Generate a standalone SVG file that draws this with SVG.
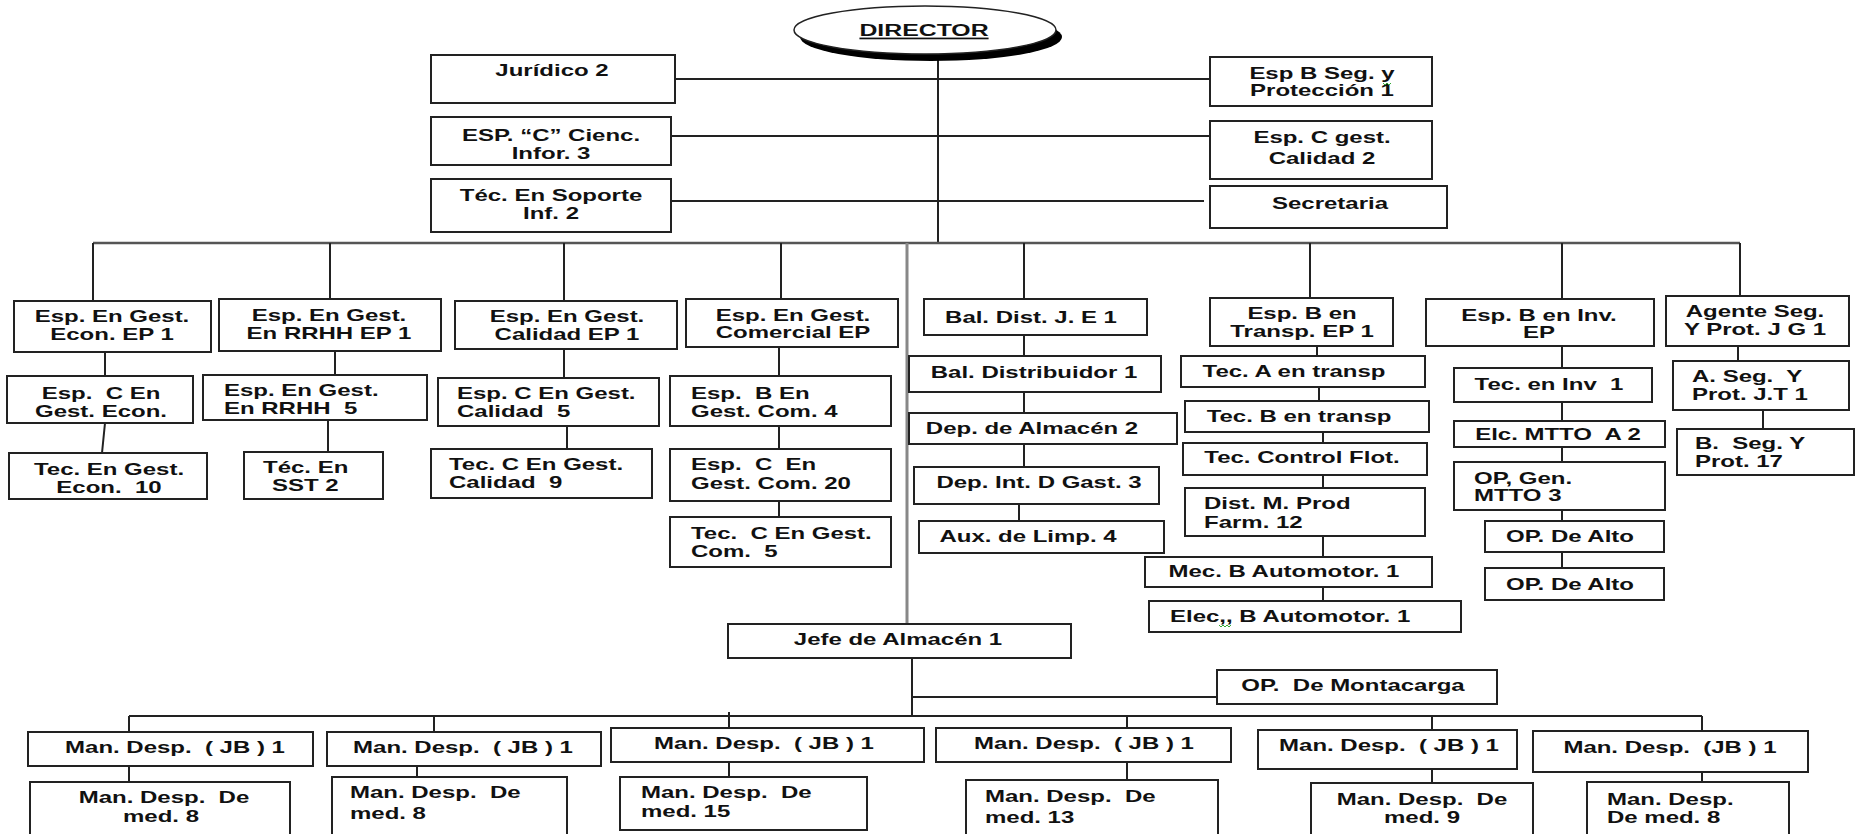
<svg xmlns="http://www.w3.org/2000/svg" width="1861" height="834" viewBox="0 0 1861 834">
<style>
  .b{fill:#fff;stroke:#222;stroke-width:2}
  .t{font-family:"Liberation Sans",Arial,sans-serif;font-weight:bold;font-size:16px;fill:#111;white-space:pre}
  .c{fill:none;stroke:#222;stroke-width:2}
  .bus{fill:none;stroke:#555;stroke-width:2.5}
  .gray{fill:none;stroke:#888;stroke-width:3}
  .sq{fill:none;stroke:#3a3;stroke-width:1}
</style>
<rect width="1861" height="834" fill="#fff"/>

<!-- connectors -->
<g id="connectors">
  <path class="c" d="M938,55V243M675,79H1210M671,136H1210M671,201H1204"/>
  <path class="bus" d="M93,243H1740"/>
  <path class="c" d="M93,243V301M330,243V299M564,243V301M781,243V299M1024,243V299M1310,243V298M1562,243V299M1740,243V296"/>
  <path class="c" d="M105,352V376M105,423L102,453"/>
  <path class="c" d="M335,351V375M328,420V452"/>
  <path class="c" d="M564,349V378M567,426V449"/>
  <path class="c" d="M779,347V376M779,426V449M779,501V517"/>
  <path class="c" d="M1024,335V356M1024,392V413M1024,444V467M1019,504V521"/>
  <path class="c" d="M1317,346V356M1319,387V401M1323,432V443M1323,475V488M1323,536V557M1323,587V601"/>
  <path class="c" d="M1562,346V368M1562,402V421M1562,447V462M1562,510V521M1562,552V568"/>
  <path class="c" d="M1738,346V361M1763,410V429"/>
  <path class="gray" d="M907,243V624"/>
  <path class="c" d="M912,658V716M912,697H1217"/>
  <path class="c" d="M129,716H1702"/>
  <path class="c" d="M129,716V732M434,716V732M729,712V728M1127,716V728M1432,716V730M1702,716V731"/>
  <path class="c" d="M129,766V782M417,766V777M729,762V777M1127,762V780M1432,769V783M1702,772V782"/>
</g>

<!-- director -->
<g id="director">
  <ellipse cx="931" cy="37" rx="131" ry="24" fill="#000"/>
  <ellipse cx="925" cy="30" rx="131" ry="24" fill="#fff" stroke="#222" stroke-width="1.5"/>
  <text class="t" font-size="17" text-decoration="underline" transform="translate(924,36) scale(1.46,1)" text-anchor="middle" style="font-size:17px">DIRECTOR</text>
</g>

<!-- staff units -->
<g id="juridico"><rect class="b" x="431" y="55" width="244" height="48"/>
  <text class="t" transform="translate(552,76) scale(1.5,1)" text-anchor="middle">Jurídico 2</text></g>
<g id="esp-cienc"><rect class="b" x="431" y="117" width="240" height="48"/>
  <text class="t" transform="translate(551,141) scale(1.5,1)" text-anchor="middle"><tspan x="0">ESP. “C” Cienc.</tspan><tspan x="0" dy="18">Infor. 3</tspan></text></g>
<g id="tec-soporte"><rect class="b" x="431" y="179" width="240" height="53"/>
  <text class="t" transform="translate(551,201) scale(1.5,1)" text-anchor="middle"><tspan x="0">Téc. En Soporte</tspan><tspan x="0" dy="18">Inf. 2</tspan></text></g>
<g id="esp-seg"><rect class="b" x="1210" y="57" width="222" height="49"/>
  <text class="t" transform="translate(1322,79) scale(1.5,1)" text-anchor="middle"><tspan x="0">Esp B Seg. y</tspan><tspan x="0" dy="17">Protección 1</tspan></text>
  <path class="sq" d="M1383,83l2,2l2,-2l2,2l2,-2"/></g>
<g id="esp-calidad"><rect class="b" x="1210" y="121" width="222" height="58"/>
  <text class="t" transform="translate(1322,143) scale(1.5,1)" text-anchor="middle"><tspan x="0">Esp. C gest.</tspan><tspan x="0" dy="21">Calidad 2</tspan></text></g>
<g id="secretaria"><rect class="b" x="1210" y="186" width="237" height="42"/>
  <text class="t" transform="translate(1330,209) scale(1.5,1)" text-anchor="middle">Secretaria</text></g>

<!-- economics -->
<g id="econ-ep"><rect class="b" x="14" y="301" width="197" height="51"/>
  <text class="t" transform="translate(112,322) scale(1.5,1)" text-anchor="middle"><tspan x="0">Esp. En Gest.</tspan><tspan x="0" dy="18.5">Econ. EP 1</tspan></text></g>
<g id="econ-c"><rect class="b" x="7" y="376" width="186" height="47"/>
  <text class="t" transform="translate(101,399) scale(1.5,1)" text-anchor="middle"><tspan x="0">Esp.  C En</tspan><tspan x="0" dy="18.5">Gest. Econ.</tspan></text></g>
<g id="econ-tec"><rect class="b" x="9" y="453" width="198" height="46"/>
  <text class="t" transform="translate(109,475) scale(1.5,1)" text-anchor="middle"><tspan x="0">Tec. En Gest.</tspan><tspan x="0" dy="18">Econ.  10</tspan></text></g>

<!-- human resources -->
<g id="rrhh-ep"><rect class="b" x="219" y="299" width="222" height="52"/>
  <text class="t" transform="translate(329,321) scale(1.5,1)" text-anchor="middle"><tspan x="0">Esp. En Gest.</tspan><tspan x="0" dy="18">En RRHH EP 1</tspan></text></g>
<g id="rrhh-esp"><rect class="b" x="203" y="375" width="224" height="45"/>
  <text class="t" transform="translate(224,396) scale(1.5,1)"><tspan x="0">Esp. En Gest.</tspan><tspan x="0" dy="18">En RRHH  5</tspan></text></g>
<g id="rrhh-sst"><rect class="b" x="244" y="452" width="139" height="47"/>
  <text class="t" transform="translate(263,473) scale(1.5,1)"><tspan x="0">Téc. En</tspan><tspan x="6" dy="18">SST 2</tspan></text></g>

<!-- quality -->
<g id="cal-ep"><rect class="b" x="455" y="301" width="222" height="48"/>
  <text class="t" transform="translate(567,322) scale(1.5,1)" text-anchor="middle"><tspan x="0">Esp. En Gest.</tspan><tspan x="0" dy="18">Calidad EP 1</tspan></text></g>
<g id="cal-esp"><rect class="b" x="438" y="378" width="221" height="48"/>
  <text class="t" transform="translate(457,399) scale(1.5,1)"><tspan x="0">Esp. C En Gest.</tspan><tspan x="0" dy="18.5">Calidad  5</tspan></text></g>
<g id="cal-tec"><rect class="b" x="431" y="449" width="221" height="49"/>
  <text class="t" transform="translate(449,470) scale(1.5,1)"><tspan x="0">Tec. C En Gest.</tspan><tspan x="0" dy="18">Calidad  9</tspan></text></g>

<!-- commercial -->
<g id="com-ep"><rect class="b" x="686" y="299" width="212" height="48"/>
  <text class="t" transform="translate(793,321) scale(1.5,1)" text-anchor="middle"><tspan x="0">Esp. En Gest.</tspan><tspan x="0" dy="17.5">Comercial EP</tspan></text></g>
<g id="com-b"><rect class="b" x="670" y="376" width="221" height="50"/>
  <text class="t" transform="translate(691,399) scale(1.5,1)"><tspan x="0">Esp.  B En</tspan><tspan x="0" dy="18.5">Gest. Com. 4</tspan></text></g>
<g id="com-c"><rect class="b" x="670" y="449" width="221" height="52"/>
  <text class="t" transform="translate(691,470) scale(1.5,1)"><tspan x="0">Esp.  C  En</tspan><tspan x="0" dy="19">Gest. Com. 20</tspan></text></g>
<g id="com-tec"><rect class="b" x="670" y="517" width="221" height="50"/>
  <text class="t" transform="translate(691,539) scale(1.5,1)"><tspan x="0">Tec.  C En Gest.</tspan><tspan x="0" dy="18.5">Com.  5</tspan></text></g>

<!-- distribution -->
<g id="bal-je"><rect class="b" x="924" y="299" width="223" height="36"/>
  <text class="t" transform="translate(1031,323) scale(1.5,1)" text-anchor="middle">Bal. Dist. J. E 1</text></g>
<g id="bal-dist"><rect class="b" x="909" y="356" width="252" height="36"/>
  <text class="t" transform="translate(1034,378) scale(1.5,1)" text-anchor="middle">Bal. Distribuidor 1</text></g>
<g id="dep-alm"><rect class="b" x="909" y="413" width="268" height="31"/>
  <text class="t" transform="translate(1032,434) scale(1.5,1)" text-anchor="middle">Dep. de Almacén 2</text></g>
<g id="dep-int"><rect class="b" x="914" y="467" width="245" height="37"/>
  <text class="t" transform="translate(1039,488) scale(1.5,1)" text-anchor="middle">Dep. Int. D Gast. 3</text></g>
<g id="aux-limp"><rect class="b" x="919" y="521" width="245" height="32"/>
  <text class="t" transform="translate(1028,542) scale(1.5,1)" text-anchor="middle">Aux. de Limp. 4</text></g>

<!-- transport -->
<g id="transp-ep"><rect class="b" x="1210" y="298" width="183" height="48"/>
  <text class="t" transform="translate(1302,319) scale(1.5,1)" text-anchor="middle"><tspan x="0">Esp. B en</tspan><tspan x="0" dy="18.5">Transp. EP 1</tspan></text></g>
<g id="tec-a"><rect class="b" x="1181" y="356" width="244" height="31"/>
  <text class="t" transform="translate(1294,377) scale(1.5,1)" text-anchor="middle">Tec. A en transp</text></g>
<g id="tec-b"><rect class="b" x="1185" y="401" width="244" height="31"/>
  <text class="t" transform="translate(1299,422) scale(1.5,1)" text-anchor="middle">Tec. B en transp</text></g>
<g id="tec-flot"><rect class="b" x="1183" y="443" width="244" height="32"/>
  <text class="t" transform="translate(1302,463) scale(1.5,1)" text-anchor="middle">Tec. Control Flot.</text></g>
<g id="dist-farm"><rect class="b" x="1185" y="488" width="240" height="48"/>
  <text class="t" transform="translate(1204,509) scale(1.5,1)"><tspan x="0">Dist. M. Prod</tspan><tspan x="0" dy="19">Farm. 12</tspan></text></g>
<g id="mec-auto"><rect class="b" x="1145" y="557" width="287" height="30"/>
  <text class="t" transform="translate(1284,577) scale(1.5,1)" text-anchor="middle">Mec. B Automotor. 1</text></g>
<g id="elec-auto"><rect class="b" x="1149" y="601" width="312" height="31"/>
  <text class="t" transform="translate(1170,622) scale(1.5,1)">Elec,, B Automotor. 1</text>
  <path class="sq" d="M1219,625l2,2l2,-2l2,2l2,-2l2,2l2,-2"/></g>

<!-- inventory -->
<g id="inv-ep"><rect class="b" x="1426" y="299" width="228" height="47"/>
  <text class="t" transform="translate(1539,321) scale(1.5,1)" text-anchor="middle"><tspan x="0">Esp. B en Inv.</tspan><tspan x="0" dy="17.5">EP</tspan></text></g>
<g id="tec-inv"><rect class="b" x="1454" y="368" width="198" height="34"/>
  <text class="t" transform="translate(1549,390) scale(1.5,1)" text-anchor="middle">Tec. en Inv  1</text></g>
<g id="elc-mtto"><rect class="b" x="1454" y="421" width="211" height="26"/>
  <text class="t" transform="translate(1558,440) scale(1.5,1)" text-anchor="middle">Elc. MTTO  A 2</text></g>
<g id="op-gen"><rect class="b" x="1454" y="462" width="211" height="48"/>
  <text class="t" transform="translate(1474,484) scale(1.5,1)"><tspan x="0">OP, Gen.</tspan><tspan x="0" dy="17.5">MTTO 3</tspan></text></g>
<g id="op-alto-1"><rect class="b" x="1485" y="521" width="179" height="31"/>
  <text class="t" transform="translate(1570,542) scale(1.5,1)" text-anchor="middle">OP. De Alto</text></g>
<g id="op-alto-2"><rect class="b" x="1485" y="568" width="179" height="32"/>
  <text class="t" transform="translate(1570,590) scale(1.5,1)" text-anchor="middle">OP. De Alto</text></g>

<!-- security -->
<g id="seg-jg"><rect class="b" x="1666" y="296" width="183" height="50"/>
  <text class="t" transform="translate(1755,317) scale(1.5,1)" text-anchor="middle"><tspan x="0">Agente Seg.</tspan><tspan x="0" dy="18.5">Y Prot. J G 1</tspan></text></g>
<g id="seg-jt"><rect class="b" x="1673" y="361" width="176" height="49"/>
  <text class="t" transform="translate(1692,382) scale(1.5,1)"><tspan x="0">A. Seg.  Y</tspan><tspan x="0" dy="18.5">Prot. J.T 1</tspan></text></g>
<g id="seg-b"><rect class="b" x="1677" y="429" width="177" height="46"/>
  <text class="t" transform="translate(1695,449) scale(1.5,1)"><tspan x="0">B.  Seg. Y</tspan><tspan x="0" dy="18.5">Prot. 17</tspan></text></g>

<!-- warehouse -->
<g id="jefe-alm"><rect class="b" x="728" y="624" width="343" height="34"/>
  <text class="t" transform="translate(898,645) scale(1.5,1)" text-anchor="middle">Jefe de Almacén 1</text></g>
<g id="montacarga"><rect class="b" x="1217" y="670" width="280" height="34"/>
  <text class="t" transform="translate(1353,691) scale(1.5,1)" text-anchor="middle">OP.  De Montacarga</text></g>

<!-- dispatch leads -->
<g id="jb-1"><rect class="b" x="28" y="732" width="285" height="34"/>
  <text class="t" transform="translate(175,753) scale(1.5,1)" text-anchor="middle">Man. Desp.  ( JB ) 1</text></g>
<g id="jb-2"><rect class="b" x="327" y="732" width="274" height="34"/>
  <text class="t" transform="translate(463,753) scale(1.5,1)" text-anchor="middle">Man. Desp.  ( JB ) 1</text></g>
<g id="jb-3"><rect class="b" x="611" y="728" width="313" height="34"/>
  <text class="t" transform="translate(764,749) scale(1.5,1)" text-anchor="middle">Man. Desp.  ( JB ) 1</text></g>
<g id="jb-4"><rect class="b" x="936" y="728" width="295" height="34"/>
  <text class="t" transform="translate(1084,749) scale(1.5,1)" text-anchor="middle">Man. Desp.  ( JB ) 1</text></g>
<g id="jb-5"><rect class="b" x="1258" y="730" width="259" height="39"/>
  <text class="t" transform="translate(1389,751) scale(1.5,1)" text-anchor="middle">Man. Desp.  ( JB ) 1</text></g>
<g id="jb-6"><rect class="b" x="1533" y="731" width="275" height="41"/>
  <text class="t" transform="translate(1670,753) scale(1.5,1)" text-anchor="middle">Man. Desp.  (JB ) 1</text></g>

<!-- dispatch staff -->
<g id="med-1"><rect class="b" x="30" y="782" width="260" height="60"/>
  <text class="t" transform="translate(164,803) scale(1.5,1)" text-anchor="middle"><tspan x="0">Man. Desp.  De</tspan><tspan x="-2" dy="19">med. 8</tspan></text></g>
<g id="med-2"><rect class="b" x="332" y="777" width="235" height="65"/>
  <text class="t" transform="translate(350,798) scale(1.5,1)"><tspan x="0">Man. Desp.  De</tspan><tspan x="0" dy="21">med. 8</tspan></text></g>
<g id="med-3"><rect class="b" x="620" y="777" width="247" height="53"/>
  <text class="t" transform="translate(641,798) scale(1.5,1)"><tspan x="0">Man. Desp.  De</tspan><tspan x="0" dy="19">med. 15</tspan></text></g>
<g id="med-4"><rect class="b" x="966" y="780" width="252" height="62"/>
  <text class="t" transform="translate(985,802) scale(1.5,1)"><tspan x="0">Man. Desp.  De</tspan><tspan x="0" dy="21">med. 13</tspan></text></g>
<g id="med-5"><rect class="b" x="1311" y="783" width="222" height="59"/>
  <text class="t" transform="translate(1422,805) scale(1.5,1)" text-anchor="middle"><tspan x="0">Man. Desp.  De</tspan><tspan x="0" dy="18">med. 9</tspan></text></g>
<g id="med-6"><rect class="b" x="1587" y="782" width="202" height="60"/>
  <text class="t" transform="translate(1607,805) scale(1.5,1)"><tspan x="0">Man. Desp.</tspan><tspan x="0" dy="18">De med. 8</tspan></text></g>
</svg>
